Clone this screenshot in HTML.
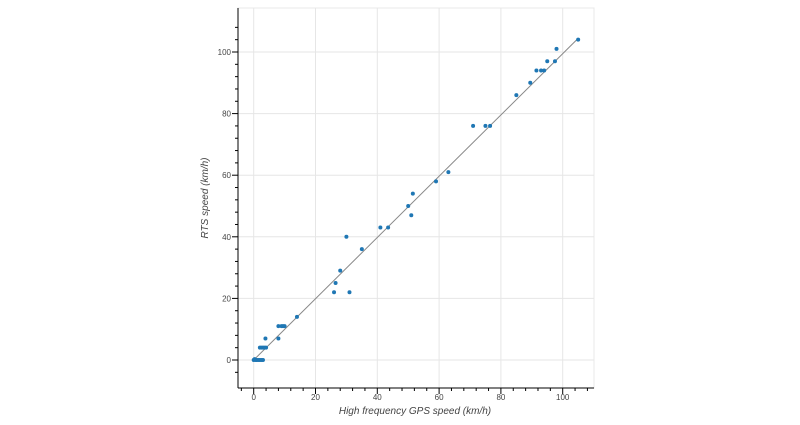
<!DOCTYPE html><html><head><style>body{margin:0;background:#fff}svg{display:block}text{font-family:"Liberation Sans",sans-serif;fill:#444}</style></head><body>
<svg width="800" height="425" viewBox="0 0 800 425" xmlns="http://www.w3.org/2000/svg" id="s">
<rect x="238" y="8" width="356" height="380" fill="none" stroke="#e8e8e8"/>
<g id="grid" stroke="#e6e6e6" stroke-width="1"></g>
<line x1="253.7" y1="360" x2="577" y2="39.5" stroke="#888" stroke-width="1"/>
<g id="pts" fill="#1f77b4"></g>
<line x1="238" y1="8" x2="238" y2="388" stroke="#000"/>
<line x1="238" y1="388" x2="594" y2="388" stroke="#000"/>
<g id="ax" stroke="#000"></g>
<g id="lab" font-size="8"></g>
<text x="415" y="414" font-size="10" font-style="italic" text-anchor="middle">High frequency GPS speed (km/h)</text>
<text transform="translate(208,198) rotate(-90)" font-size="10" font-style="italic" text-anchor="middle">RTS speed (km/h)</text>
</svg>
<script>
const X=v=>253.7+v*3.09,Y=v=>360-v*3.08,ns="http://www.w3.org/2000/svg";
function el(p,t,a,tx){const e=document.createElementNS(ns,t);for(const k in a)e.setAttribute(k,a[k]);if(tx!==undefined)e.textContent=tx;document.getElementById(p).appendChild(e);}
for(let v=0;v<=100;v+=20){el("grid","line",{x1:X(v),x2:X(v),y1:8,y2:388});el("grid","line",{y1:Y(v),y2:Y(v),x1:238,x2:594});
el("lab","text",{x:X(v),y:400,"text-anchor":"middle"},v);el("lab","text",{x:231,y:Y(v)+3,"text-anchor":"end"},v);}
for(let v=-4;v<=108;v+=4){const m=v%20==0;if(X(v)>=238&&X(v)<=594)el("ax","line",{x1:X(v),x2:X(v),y1:388,y2:388+(m?6:3)});if(Y(v)>=8&&Y(v)<=388)el("ax","line",{y1:Y(v),y2:Y(v),x1:238,x2:238-(m?6:3)});}
const d=[[0,0],[0.3,0.3],[0.6,0],[1,0],[1.5,0],[2,0],[2.5,0],[3,0],[2,4],[2.5,4],[3,4],[3.5,4],[4,4],[3.8,7],[8,7],[8,11],[9,11],[9.5,11],[10,11],[14,14],[26,22],[26.5,25],[28,29],[31,22],[30,40],[35,36],[41,43],[43.5,43],[50,50],[51,47],[51.5,54],[59,58],[63,61],[71,76],[75,76],[76.5,76],[85,86],[89.5,90],[91.5,94],[93,94],[94,94],[95,97],[97.5,97],[98,101],[105,104]];
d.forEach(p=>el("pts","circle",{cx:X(p[0]),cy:Y(p[1]),r:2}));
</script></body></html>
